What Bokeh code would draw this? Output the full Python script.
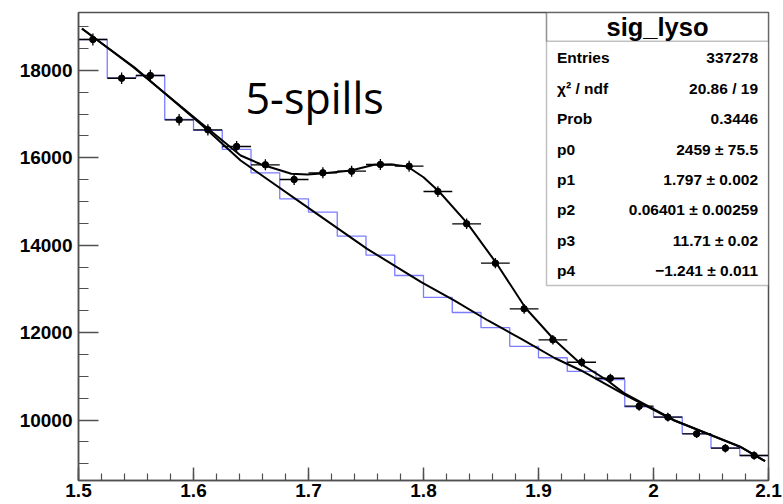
from bokeh.plotting import figure
from bokeh.models import FixedTicker, Label, BoxAnnotation, Range1d
from bokeh.embed import file_html
from bokeh.resources import INLINE

# ---------------- data ----------------
bin_edges = [1.5, 1.525, 1.55, 1.575, 1.6, 1.625, 1.65, 1.675, 1.7, 1.725, 1.75, 1.775,
             1.8, 1.825, 1.85, 1.875, 1.9, 1.925, 1.95, 1.975, 2.0, 2.025, 2.05, 2.075, 2.1]
bin_centers = [1.5125, 1.5375, 1.5625, 1.5875, 1.6125, 1.6375, 1.6625, 1.6875, 1.7125, 1.7375,
               1.7625, 1.7875, 1.8125, 1.8375, 1.8625, 1.8875, 1.9125, 1.9375, 1.9625, 1.9875,
               2.0125, 2.0375, 2.0625, 2.0875]
data_counts = [18706, 17820, 17882, 16869, 16640, 16258, 15839, 15503, 15656, 15693,
               15846, 15807, 15228, 14489, 13588, 12544, 11835, 11322, 10956, 10316,
               10064, 9684, 9355, 9188]
data_errors = [135, 133, 134, 130, 129, 128, 126, 125, 125, 125,
               126, 126, 123, 120, 117, 112, 109, 106, 105, 102,
               100, 98, 97, 96]
bkg_hist = [18706, 17829, 17882, 16876, 16625, 16190, 15656, 15061, 14755, 14206,
            13771, 13306, 12805, 12460, 12112, 11686, 11425, 11114, 10924, 10300,
            10072, 9690, 9360, 9188]

fit_x = [1.503, 1.548, 1.606, 1.641, 1.659, 1.676, 1.685, 1.699, 1.714, 1.737, 1.757, 1.772,
         1.786, 1.800, 1.8135, 1.838, 1.8634, 1.8889, 1.9135, 1.9367, 1.960, 1.974, 2.018,
         2.076, 2.097]
fit_y = [18958, 18065, 16807, 16052, 15846, 15709, 15633, 15617, 15647, 15709, 15839, 15846,
         15800, 15555, 15228, 14503, 13588, 12558, 11842, 11286, 10904, 10620, 9995,
         9382, 9060]

bkg_x = [1.503, 1.5485, 1.606, 1.641, 1.693, 1.751, 1.798, 1.827, 1.856, 1.885, 1.914,
         1.937, 1.974, 2.018, 2.076, 2.097]
bkg_y = [18951, 18072, 16777, 15937, 14981, 13917, 13153, 12734, 12277, 11858, 11419,
         11133, 10590, 9989, 9378, 9057]

x_ticks = [1.5, 1.6, 1.7, 1.8, 1.9, 2.0, 2.1]
x_tick_labels = ["1.5", "1.6", "1.7", "1.8", "1.9", "2", "2.1"]
y_ticks = [10000, 12000, 14000, 16000, 18000]
y_tick_labels = ["10000", "12000", "14000", "16000", "18000"]

annotation_text = "5-spills"
stats_title = "sig_lyso"
stats_names = ["Entries", "χ² / ndf", "Prob", "p0", "p1", "p2", "p3", "p4"]
stats_values = ["337278", "20.86 / 19", "0.3446", "2459 ± 75.5", "1.797 ± 0.002",
                "0.06401 ± 0.00259", "11.71 ± 0.02", "−1.241 ± 0.011"]

# ---------------- layout ----------------
X0, X1 = 1.5, 2.1
Y0, Y1 = 8616, 19324
FL, FT, FW, FH = 78, 12, 690, 468   # frame left/top/width/height (px)


def px_x(px):
    return X0 + (px - FL) / FW * (X1 - X0)


def px_y(py):
    return Y1 - (py - FT) / FH * (Y1 - Y0)


p = figure(width=783, height=504, x_range=Range1d(X0, X1), y_range=Range1d(Y0, Y1),
           output_backend="svg", toolbar_location=None,
           min_border_left=FL, min_border_right=783 - FL - FW,
           min_border_top=FT, min_border_bottom=504 - FT - FH)
p.grid.visible = False
p.background_fill_color = "white"
p.border_fill_color = "white"
p.outline_line_color = "#505050"
p.outline_line_width = 1.5

AX = "#505050"
FONT = "Liberation Sans"

p.xaxis.ticker = FixedTicker(ticks=x_ticks, minor_ticks=[round(1.5 + 0.02 * i, 3) for i in range(31)])
p.xaxis.major_label_overrides = dict(zip(x_ticks, x_tick_labels))
p.yaxis.ticker = FixedTicker(ticks=y_ticks, minor_ticks=[8500 + 500 * i for i in range(23)])
p.yaxis.major_label_overrides = dict(zip(y_ticks, y_tick_labels))

for ax in (p.xaxis, p.yaxis):
    ax.axis_line_color = AX
    ax.axis_line_width = 1.5
    ax.major_tick_line_color = AX
    ax.minor_tick_line_color = AX
    ax.major_tick_line_width = 1.5
    ax.minor_tick_line_width = 1.2
    ax.major_tick_out = 0
    ax.minor_tick_out = 0
    ax.major_label_text_font = FONT
    ax.major_label_text_font_style = "bold"
    ax.major_label_text_font_size = "19px"
    ax.major_label_text_color = "black"
p.xaxis.major_tick_in = 13
p.xaxis.minor_tick_in = 7
p.yaxis.major_tick_in = 20
p.yaxis.minor_tick_in = 10
p.xaxis.major_label_standoff = 3
p.yaxis.major_label_standoff = 6

# background histogram (blue steps)
p.step(x=bin_edges, y=bkg_hist + [bkg_hist[-1]], mode="after",
       line_color="#7c7cff", line_width=1.3)

# fit curves
p.line(bkg_x, bkg_y, line_color="black", line_width=2)
p.line(fit_x, fit_y, line_color="black", line_width=2)

# data error bars and markers
lo = [c - e for c, e in zip(data_counts, data_errors)]
hi = [c + e for c, e in zip(data_counts, data_errors)]
p.segment(x0=bin_centers, y0=lo, x1=bin_centers, y1=hi, line_color="black", line_width=1.3)
p.segment(x0=bin_edges[:-1], y0=data_counts, x1=bin_edges[1:], y1=data_counts,
          line_color="black", line_width=1.3)
p.scatter(bin_centers, data_counts, marker="circle", size=6.5, color="black")

# "5-spills" text
p.add_layout(Label(x=px_x(245), y=px_y(97), text=annotation_text,
                   text_font="Open Sans", text_font_size="43px", text_color="black",
                   text_baseline="alphabetic", text_align="left"))

# stats box
box_l, box_r = px_x(546), X1
box_t, box_b = Y1, px_y(285)
sep = px_y(40.7)
p.add_layout(BoxAnnotation(left=box_l, right=box_r, bottom=box_b, top=box_t,
                           fill_color="white", fill_alpha=1.0,
                           line_color="#303030", line_width=1.5))
p.add_layout(BoxAnnotation(left=box_l, right=box_r, bottom=sep, top=box_t,
                           fill_alpha=0.0, line_color="#303030", line_width=1.5))
p.add_layout(Label(x=(box_l + box_r) / 2, y=px_y(26.5), text=stats_title,
                   text_font=FONT, text_font_style="bold", text_font_size="25.5px",
                   text_align="center", text_baseline="middle", text_color="black"))
for i, (nm, val) in enumerate(zip(stats_names, stats_values)):
    yy = px_y(57.3 + 30.4 * i)
    p.add_layout(Label(x=px_x(556.5), y=yy, text=nm, text_font=FONT,
                       text_font_style="bold", text_font_size="15.5px",
                       text_align="left", text_baseline="middle", text_color="black"))
    p.add_layout(Label(x=px_x(757.5), y=yy, text=val, text_font=FONT,
                       text_font_style="bold", text_font_size="15.5px",
                       text_align="right", text_baseline="middle", text_color="black"))

open("out.html", "w").write(file_html(p, INLINE))
